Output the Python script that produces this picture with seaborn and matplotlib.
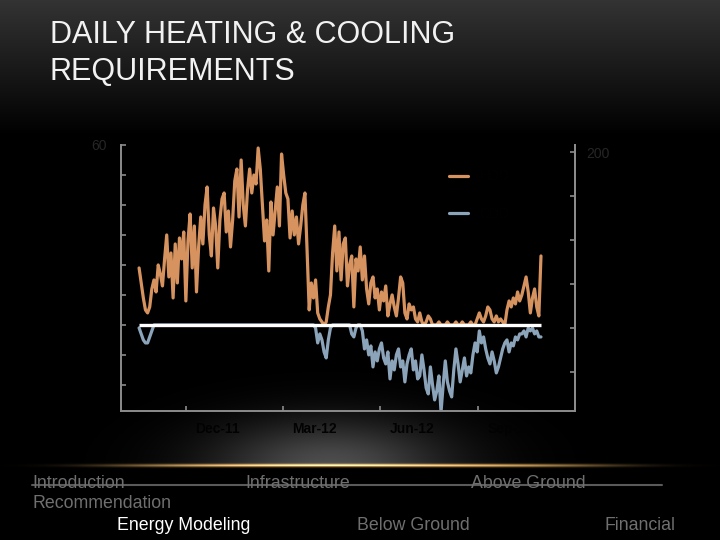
import numpy as np
import pandas as pd
import matplotlib
matplotlib.use("Agg")
import matplotlib.pyplot as plt
import seaborn as sns

# every second day, 18 Oct 2011 -> 30 Oct 2012
START_DATE = "2011-10-18"

heating_dd = [
    19, 14, 9, 5, 4, 6, 12, 15, 11, 20,
    17, 13, 22, 30, 16, 24, 9, 27, 14, 29,
    22, 31, 8, 28, 37, 19, 33, 11, 26, 36,
    27, 40, 46, 30, 23, 39, 33, 19, 35, 42,
    44, 31, 38, 26, 35, 48, 52, 36, 55, 40,
    33, 45, 52, 44, 50, 47, 59, 52, 40, 28,
    35, 18, 41, 30, 38, 46, 33, 57, 50, 44,
    42, 29, 38, 30, 36, 27, 33, 40, 44, 25,
    5, 14, 9, 15, 4, 2, 1, 0, 1, 6,
    10, 24, 33, 18, 31, 15, 27, 29, 13, 20,
    23, 6, 22, 18, 26, 15, 23, 12, 7, 14,
    16, 9, 12, 5, 11, 8, 13, 3, 7, 10,
    6, 3, 9, 16, 14, 4, 2, 7, 5, 6,
    2, 1, 4, 1, 0, 1, 3, 2, 0, 0,
    0, 1, 0, 0, 0, 1, 0, 0, 0, 1,
    0, 0, 1, 0, 0, 0, 1, 0, 0, 2,
    4, 2, 1, 3, 6, 5, 2, 1, 3, 1,
    2, 1, 0, 5, 8, 6, 9, 7, 11, 8,
    10, 13, 16, 11, 4, 9, 12, 6, 3, 23,
]

cooling_dd = [
    1, 3, 5, 6, 6, 4, 2, 0, 0, 0,
    0, 0, 0, 0, 0, 0, 0, 0, 0, 0,
    0, 0, 0, 0, 0, 0, 0, 0, 0, 0,
    0, 0, 0, 0, 0, 0, 0, 0, 0, 0,
    0, 0, 0, 0, 0, 0, 0, 0, 0, 0,
    0, 0, 0, 0, 0, 0, 0, 0, 0, 0,
    0, 0, 0, 0, 0, 0, 0, 0, 0, 0,
    0, 0, 0, 0, 0, 0, 0, 0, 0, 0,
    0, 0, 0, 1, 6, 3, 5, 9, 11, 5,
    1, 0, 0, 0, 0, 0, 0, 0, 0, 0,
    3, 4, 1, 0, 0, 2, 8, 5, 10, 7,
    14, 9, 12, 8, 6, 11, 13, 9, 18, 12,
    15, 10, 8, 14, 12, 19, 13, 10, 8, 15,
    12, 18, 17, 10, 15, 21, 23, 14, 20, 25,
    22, 17, 29, 20, 12, 19, 22, 24, 15, 8,
    13, 19, 15, 11, 17, 14, 16, 10, 6, 9,
    2, 6, 4, 8, 11, 13, 9, 12, 16, 14,
    11, 8, 6, 5, 9, 6, 7, 4, 5, 3,
    3, 2, 4, 1, 2, 1, 3, 2, 4, 4,
]

series_names = ["HDD", "CDD"]
series_colors = ["#d6935f", "#8ca4b9"]
tick_dates = ["2011-12-01", "2012-03-01", "2012-06-01", "2012-09-01"]
label_dates = ["2011-12-31", "2012-03-31", "2012-07-01", "2012-10-01"]
tick_labels = ["Dec-11", "Mar-12", "Jun-12", "Sep-12"]
nav_items = [("Introduction", 32, 483, "#6f6f6f"), ("Infrastructure", 245, 483, "#6f6f6f"),
             ("Above Ground", 471, 483, "#6f6f6f"), ("Recommendation", 32, 504, "#6f6f6f"),
             ("Energy Modeling", 117, 526, "#ffffff"), ("Below Ground", 357, 526, "#6f6f6f"),
             ("Financial", 605, 526, "#6f6f6f")]

dates = pd.date_range(START_DATE, periods=len(heating_dd), freq="2D")
df = pd.concat([
    pd.DataFrame({"date": dates, "value": heating_dd, "series": series_names[0]}),
    pd.DataFrame({"date": dates, "value": [-v for v in cooling_dd], "series": series_names[1]}),
])

sns.set_theme(style="dark")
plt.rcParams['font.family'] = ['Liberation Sans', 'DejaVu Sans']

W, H = 720, 540
fig = plt.figure(figsize=(7.2, 5.4), dpi=100)
fig.patch.set_facecolor("black")

# background: grey gradient at the top, grey glow + gold line near the bottom
yy, xx = np.mgrid[0:H, 0:W].astype(float)
top = 0.2 * np.clip(1 - yy / 135.0, 0, 1)
glow = 0.3 * np.exp(-((xx - 330) / 118.0) ** 2) * np.exp(-((465 - yy) / 45.0) ** 2) * (yy <= 465)
base = top + glow
img = np.dstack([base, base, base])
gold = np.exp(-((xx - 360) / 240.0) ** 4) * np.exp(-((yy - 465) / 1.6) ** 2)
img[..., 0] += 0.92 * gold
img[..., 1] += 0.70 * gold
img[..., 2] += 0.38 * gold
img = np.clip(img, 0, 1)
bg = fig.add_axes([0, 0, 1, 1])
bg.imshow(img, extent=(0, W, H, 0), aspect="auto")
bg.set_xlim(0, W)
bg.set_ylim(H, 0)
bg.axis("off")

ax = fig.add_axes([121 / W, 1 - 411 / H, 454 / W, 266 / H])
ax.set_facecolor("none")
sns.lineplot(data=df, x="date", y="value", hue="series", hue_order=series_names,
             palette=dict(zip(series_names, series_colors)), linewidth=2.3, ax=ax)
ax.hlines(0, dates[0], dates[-1], color="white", linewidth=2.4, zorder=5)

ax.set_xlim(pd.Timestamp("2011-10-01"), pd.Timestamp("2012-12-01"))
ax.set_ylim(-28.7, 60)
ax.set_yticks(range(-20, 61, 10))
ax.set_xticks(pd.to_datetime(tick_dates))
ax.set_xticklabels([])
ax.set_xticks(pd.to_datetime(label_dates), minor=True)
ax.set_xticklabels(tick_labels, minor=True)
ax.set_xlabel("")
ax.set_ylabel("")
ax.grid(False)

grey = "#8c8c8c"
for side in ["left", "bottom", "right"]:
    ax.spines[side].set_visible(True)
    ax.spines[side].set_color(grey)
    ax.spines[side].set_linewidth(1.4)
ax.spines["top"].set_visible(False)
ax.tick_params(axis="y", which="major", direction="in", length=3.5, width=1.2, color=grey,
               labelcolor="#262626", labelsize=10, pad=10, left=True)
ax.tick_params(axis="x", which="major", direction="in", length=3.5, width=1.2, color=grey, bottom=True)
ax.tick_params(axis="x", which="minor", length=0, labelcolor="#020202", labelsize=10, pad=8)
for lbl in ax.get_xticklabels(minor=True):
    lbl.set_fontweight("bold")
ax.set_yticklabels(["" if v != 60 else "60" for v in range(-20, 61, 10)])

ax2 = ax.twinx()
ax2.set_ylim(-94, 208)
ax2.set_yticks(range(-50, 201, 50))
ax2.set_yticklabels(["" if v != 200 else "200" for v in range(-50, 201, 50)])
ax2.tick_params(axis="y", direction="in", length=3.5, width=1.2, color=grey,
                labelcolor="#262626", labelsize=10, pad=8, right=True)
for side in ["left", "bottom", "top"]:
    ax2.spines[side].set_visible(False)
ax2.spines["right"].set_color(grey)
ax2.spines["right"].set_linewidth(1.4)
ax2.grid(False)

handles, labels = ax.get_legend_handles_labels()
ax.get_legend().remove()
leg = ax2.legend(handles, labels, loc="upper left", bbox_to_anchor=(0.695, 0.955),
                 frameon=False, labelcolor="#020202", fontsize=10,
                 handlelength=1.4, labelspacing=1.7)

fig.text(50 / W, 1 - 35 / H, "DAILY HEATING & COOLING", color="#f2f2f2", fontsize=22,
         va="center", ha="left")
fig.text(50 / W, 1 - 72 / H, "REQUIREMENTS", color="#f2f2f2", fontsize=22,
         va="center", ha="left")

for name, x, y, col in nav_items:
    fig.text(x / W, 1 - y / H, name, color=col, fontsize=12.8, va="center", ha="left")
bg.plot([32, 662], [485, 485], color="#5a5a5a", linewidth=1.5)

fig.savefig("out.png", dpi=100, facecolor=fig.get_facecolor())
